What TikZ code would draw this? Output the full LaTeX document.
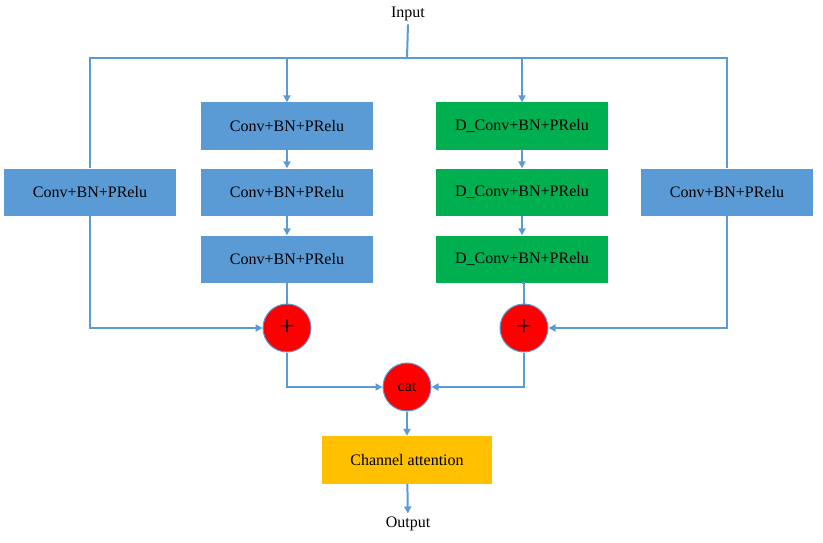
\documentclass[tikz,border=0pt]{standalone}
\usepackage{fontspec}
\setmainfont{Liberation Serif}
\usetikzlibrary{arrows.meta}
\definecolor{bl}{HTML}{5B9BD5}
\definecolor{gr}{HTML}{00B050}
\definecolor{yl}{HTML}{FFC000}
\begin{document}
\begin{tikzpicture}[x=1pt,y=-1pt,
  box/.style={draw=none,minimum width=172pt,minimum height=47pt,inner sep=0pt,font=\fontsize{16}{18}\selectfont},
  ln/.style={draw=bl,line width=2pt},
  ar/.style={ln,-{Triangle[width=7pt,length=7pt]}},
  circ/.style={circle,fill=red,draw=bl,line width=1pt,minimum size=48pt,inner sep=0pt}]
\useasboundingbox (0,0) rectangle (823,543);
\node[font=\fontsize{16}{18}\selectfont] (in) at (408,14) {Input};
\node[font=\fontsize{16}{18}\selectfont] (out) at (408,524) {Output};
\node[box,fill=bl] (L) at (90,192) {Conv+BN+PRelu};
\node[box,fill=bl] (R) at (727,192) {Conv+BN+PRelu};
\node[box,fill=bl] (a1) at (287,126) {Conv+BN+PRelu};
\node[box,fill=bl] (a2) at (287,192) {Conv+BN+PRelu};
\node[box,fill=bl] (a3) at (287,259) {Conv+BN+PRelu};
\node[box,fill=gr] (b1) at (522,126) {D\_Conv+BN+PRelu};
\node[box,fill=gr] (b2) at (522,192) {D\_Conv+BN+PRelu};
\node[box,fill=gr] (b3) at (522,259) {D\_Conv+BN+PRelu};
\node[circ] (p1) at (287,328) {\fontsize{28}{28}\selectfont +};
\node[circ] (p2) at (524,328) {\fontsize{28}{28}\selectfont +};
\node[circ,font=\fontsize{16}{18}\selectfont] (cat) at (407,387) {cat};
\node[box,fill=yl,minimum width=170pt,minimum height=48pt] (ca) at (407,460) {Channel attention};
\coordinate (top) at (407,58);
\draw[ln] (in.south) -- (top);
\draw[ln] (L.north) |- (R.north |- top) -- (R.north);
\draw[ar] (a1.north |- top) -- (a1.north);
\draw[ar] (b1.north |- top) -- (b1.north);
\draw[ar] (a1) -- (a2); \draw[ar] (a2) -- (a3);
\draw[ar] (b1) -- (b2); \draw[ar] (b2) -- (b3);
\draw[ln] (a3) -- (p1); \draw[ln] (b3.south) -- (b3.south -| p2) -- (p2);
\draw[ar] (L.south) |- (p1.west);
\draw[ar] (R.south) |- (p2.east);
\draw[ar] (p1.south) |- (cat.west);
\draw[ar] (p2.south) |- (cat.east);
\draw[ar] (cat) -- (ca);
\draw[ar] (ca) -- (out);
\end{tikzpicture}
\end{document}
